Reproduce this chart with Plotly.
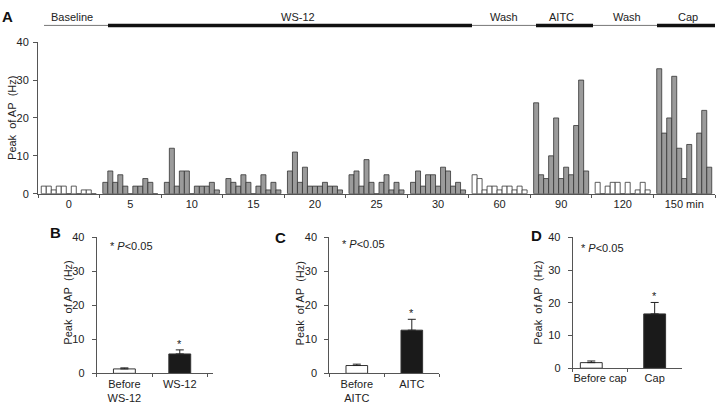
import plotly.graph_objects as go

W, H = 716, 414
FONT = "Liberation Sans, Arial, sans-serif"
TXT = "#222222"
AXC = "#555555"
GRAY = "#9b9b9b"

# ---------------- Panel A data (peak AP, Hz; 11 sweeps per time point) -------------
time_labels = ["0", "5", "10", "15", "20", "25", "30", "60", "90", "120", "150 min"]
treated = [False, True, True, True, True, True, True, False, True, False, True]
ap_t0 = [2, 2, 1, 2, 2, 0, 2, 0, 1, 1, 0]
ap_t5 = [3, 6, 3, 5, 2, 0, 2, 2, 4, 3, 0]
ap_t10 = [3, 12, 2, 6, 6, 0, 2, 2, 2, 3, 1]
ap_t15 = [4, 3, 2, 5, 3, 0, 2, 5, 1, 3, 1]
ap_t20 = [6, 11, 3, 7, 2, 2, 2, 3, 2, 2, 1]
ap_t25 = [5, 6, 2, 9, 3, 0, 3, 5, 1, 3, 1]
ap_t30 = [3, 6, 2, 5, 5, 2, 7, 6, 2, 3, 1]
ap_t60 = [5, 4, 1, 2, 2, 1, 2, 2, 1, 2, 1]
ap_t90 = [24, 5, 4, 10, 20, 4, 7, 5, 18, 30, 6]
ap_t120 = [3, 0, 2, 3, 3, 0, 3, 0, 1, 3, 1]
ap_t150 = [33, 16, 20, 31, 12, 4, 13, 0, 16, 22, 7]
groups = [ap_t0, ap_t5, ap_t10, ap_t15, ap_t20, ap_t25, ap_t30,
          ap_t60, ap_t90, ap_t120, ap_t150]

# stage bar above panel A
stage_names = ["Baseline", "WS-12", "Wash", "AITC", "Wash", "Cap"]
stage_thick = [False, True, False, True, False, True]

# ---------------- Panels B-D data (mean, SEM) ----------------
b_labels = ["Before<br>WS-12", "WS-12"]
b_mean = [1.3, 5.7]
b_sem = [0.3, 1.2]
c_labels = ["Before<br>AITC", "AITC"]
c_mean = [2.3, 12.7]
c_sem = [0.4, 3.2]
d_labels = ["Before cap", "Cap"]
d_mean = [1.7, 16.6]
d_sem = [0.5, 3.5]


def px(x):
    return x / W


def py(y):
    return 1 - y / H


fig = go.Figure()

n_slots = len(ap_t0)
colors_a = [GRAY if t else "white" for t in treated]
for j in range(n_slots):
    fig.add_trace(go.Bar(
        x=time_labels, y=[g[j] for g in groups],
        marker=dict(color=colors_a, line=dict(color="#333333", width=0.8)),
        xaxis="x", yaxis="y", showlegend=False, hoverinfo="skip"))


def summary_bar(labels, mean, sem, ax, width, offset=None):
    kw = {}
    if offset is not None:
        kw["offset"] = offset
    fig.add_trace(go.Bar(
        x=labels, y=mean, width=width,
        marker=dict(color=["white", "#1a1a1a"], line=dict(color="#333333", width=1)),
        error_y=dict(type="data", symmetric=False, array=sem, arrayminus=[0, 0],
                     color="#222222", thickness=1, width=4),
        xaxis="x" + ax, yaxis="y" + ax, showlegend=False, hoverinfo="skip", **kw))


summary_bar(b_labels, b_mean, b_sem, "2", 0.395)
summary_bar(c_labels, c_mean, c_sem, "3", 0.393)
summary_bar(d_labels, d_mean, d_sem, "4", 0.4, offset=[-0.36, -0.2])

tickfont = dict(family=FONT, size=11, color=TXT)


def xax(domain, anchor, rng):
    return dict(domain=domain, anchor=anchor, type="category", range=rng,
                showline=True, linecolor=AXC, linewidth=1, ticks="outside",
                tickson="boundaries", ticklen=3, tickcolor=AXC, tickwidth=1,
                tickangle=0, showgrid=False, zeroline=False, tickfont=tickfont,
                fixedrange=True)


def yax(domain, anchor, standoff):
    return dict(domain=domain, anchor=anchor, range=[0, 40], tickvals=[0, 10, 20, 30, 40],
                showline=True, linecolor=AXC, linewidth=1, ticks="outside", ticklen=4,
                tickcolor=AXC, tickwidth=1, showgrid=False, zeroline=False,
                tickfont=tickfont, ticklabelstandoff=standoff, fixedrange=True)


bot_dom = [py(378.3), py(238.3)]
layout = dict(
    width=W, height=H, margin=dict(l=0, r=0, t=0, b=0),
    paper_bgcolor="white", plot_bgcolor="white",
    barmode="group", bargap=0.106, bargroupgap=0,
    font=dict(family=FONT, size=11, color=TXT),
    xaxis=xax([px(38), px(715)], "y", [-0.5, len(time_labels) - 0.5]),
    yaxis=yax([py(193.3), py(37.3)], "x", 2),
    xaxis2=xax([px(96.7), px(213)], "y2", [-0.5, 1.6]),
    yaxis2=yax(bot_dom, "x2", 5),
    xaxis3=xax([px(329.3), px(439.3)], "y3", [-0.5, 1.5]),
    yaxis3=yax(bot_dom, "x3", 5),
    xaxis4=xax([px(572.7), px(682)], "y4", [-0.5, 1.5]),
    yaxis4=yax([py(373), py(238.3)], "x4", 5),
)
fig.update_layout(**layout)

ann = []
shapes = []

# stage bar
stage_x = [44, 108, 472, 536, 593, 657, 715]
stage_lab_x = [71.7, 298, 503.7, 561.7, 626.7, 688.3]
for i, name in enumerate(stage_names):
    shapes.append(dict(type="line", xref="paper", yref="paper",
                       x0=px(stage_x[i]), x1=px(stage_x[i + 1]), y0=py(20), y1=py(20),
                       line=dict(color="#111111" if stage_thick[i] else "#777777",
                                 width=3.5 if stage_thick[i] else 1)))
    ann.append(dict(text=name, xref="paper", yref="paper", x=px(stage_lab_x[i]),
                    y=py(11.5), xanchor="center", yanchor="middle", showarrow=False,
                    font=dict(size=11, color=TXT)))

# panel letters
for letter, x, y in [("A", 7.5, 11), ("B", 55, 233), ("C", 280, 238), ("D", 536.3, 236)]:
    ann.append(dict(text="<b>%s</b>" % letter, xref="paper", yref="paper", x=px(x), y=py(y),
                    xanchor="center", yanchor="middle", showarrow=False,
                    font=dict(size=15, color="#111111")))

# y titles
ytitle = "Peak\u00a0 of AP\u00a0 (Hz)"
for x, y in [(12, 115.3), (68.5, 306), (300.3, 306), (538, 305.7)]:
    ann.append(dict(text=ytitle, xref="paper", yref="paper", x=px(x), y=py(y),
                    xanchor="center", yanchor="middle", textangle=-90, showarrow=False,
                    font=dict(size=11, color=TXT)))

# P value notes
for x, y in [(108.3, 247.3), (340, 245), (579.3, 249.7)]:
    ann.append(dict(text="* <i>P</i>&lt;0.05", xref="paper", yref="paper", x=px(x), y=py(y),
                    xanchor="left", yanchor="middle", showarrow=False,
                    font=dict(size=11, color=TXT)))

# significance stars above the treated bars
for ax, labels, mean, sem in [("2", b_labels, b_mean, b_sem), ("3", c_labels, c_mean, c_sem),
                              ("4", d_labels, d_mean, d_sem)]:
    ann.append(dict(text="*", xref="x" + ax, yref="y" + ax, x=labels[1], y=mean[1] + sem[1],
                    xanchor="center", yanchor="middle", yshift=6, showarrow=False,
                    font=dict(size=11, color=TXT)))

fig.update_layout(annotations=ann, shapes=shapes)
fig.write_html("out.html", config={"displayModeBar": False},
               post_script="document.body.style.margin='0';document.body.style.overflow='hidden';")
